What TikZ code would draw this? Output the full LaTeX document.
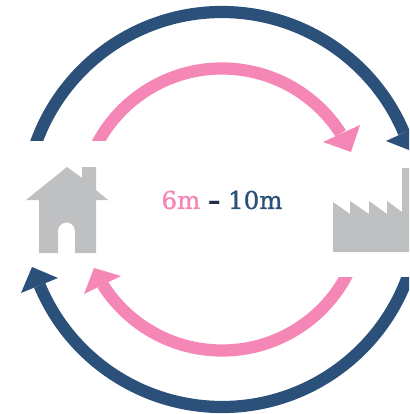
\documentclass[tikz,border=0pt]{standalone}
\usepackage{fontspec}
\setmainfont{DejaVu Serif}
\definecolor{navy}{HTML}{2B5079}
\definecolor{rosa}{HTML}{F587B6}
\definecolor{icon}{HTML}{BFC0C2}
\definecolor{dashcol}{HTML}{22304A}
\tikzset{
  navyarc/.style={draw=navy,line width=12.2pt},
  rosaarc/.style={draw=rosa,line width=12.2pt},
  navyhead/.style={fill=navy},
  rosahead/.style={fill=rosa},
  iconshape/.style={fill=icon},
}
\begin{document}
\begin{tikzpicture}[x=1pt,y=-1pt]
\useasboundingbox (0,0) rectangle (409,414);
\clip (0,0) rectangle (409,414);
\coordinate (c) at (222,209.5);
% top arcs, cut flat at y=141
\begin{scope}
\clip (0,0) rectangle (409,141);
\draw[navyarc] (c) ++(-175:197.5) arc[start angle=-175,end angle=-22.9,radius=197.5];
\draw[rosaarc] (c) ++(-170:141) arc[start angle=-170,end angle=-32.6,radius=141];
\end{scope}
\fill[navyhead] (386,141) -- (423,124) -- (414,152) -- cycle;
\fill[rosahead] (323,142) -- (360,125) -- (351,152) -- cycle;
% bottom arcs, cut flat at y=277.5
\begin{scope}
\clip (0,277.5) rectangle (409,414);
\draw[navyarc] (c) ++(5:197.5) arc[start angle=5,end angle=157.4,radius=197.5];
\draw[rosaarc] (c) ++(5:141) arc[start angle=5,end angle=147.8,radius=141];
\end{scope}
\fill[navyhead] (32,267) -- (58,278) -- (21,293) -- cycle;
\fill[rosahead] (94,268) -- (121,276) -- (84,294) -- cycle;
% house
\fill[iconshape] (67,167) -- (82,178) -- (82,167) -- (96,167) -- (96,190) -- (108,200)
  -- (96,200) -- (96,253) -- (75,253) -- (75,231)
  arc[start angle=0,end angle=-180,radius=8.5] -- (58,253) -- (39,253) -- (39,200) -- (26,200) -- cycle;
% factory
\fill[iconshape] (333,202) -- (350,214) -- (350,201) -- (369,214) -- (369,201) -- (387,214)
  -- (387,201) -- (402,212) -- (402,168) -- (409,168) -- (409,252) -- (333,252) -- cycle;
% label
\node[inner sep=0pt,font=\fontsize{24.5}{28}\selectfont\addfontfeature{FakeBold=1.2}] (label) at (222,200)
  {\textcolor{rosa}{6m} \textcolor{dashcol}{\bfseries –} \textcolor{navy}{10m}};
\end{tikzpicture}
\end{document}
